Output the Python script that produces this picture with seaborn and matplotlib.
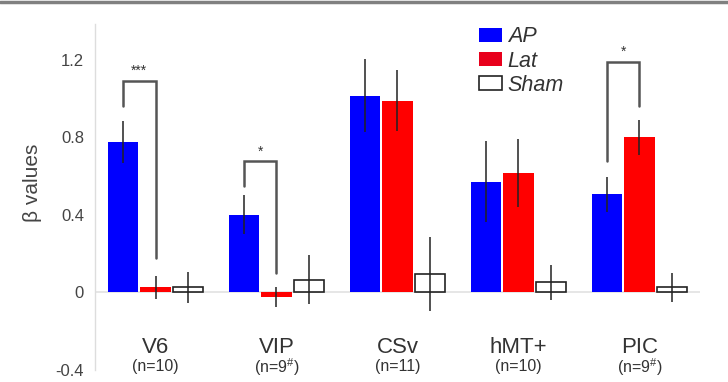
import numpy as np
import pandas as pd
import seaborn as sns
import matplotlib.pyplot as plt
from matplotlib.patches import Patch
from matplotlib.lines import Line2D

# data
regions = ['V6', 'VIP', 'CSv', 'hMT+', 'PIC']
n_labels = ['(n=10)', '(n=9$^{\\#}$)', '(n=11)', '(n=10)', '(n=9$^{\\#}$)']
conds = ['AP', 'Lat', 'Sham']
ap = [0.775, 0.40, 1.015, 0.57, 0.505]
lat = [0.025, -0.025, 0.99, 0.615, 0.80]
sham = [0.025, 0.065, 0.095, 0.05, 0.025]
# error bar half widths
ap_err = [0.11, 0.10, 0.19, 0.21, 0.09]
lat_err = [0.06, 0.05, 0.16, 0.175, 0.09]
sham_err = [0.08, 0.125, 0.19, 0.09, 0.075]
# significance brackets: (region, left leg bottom, bracket top, right leg bottom, label)
sig = [('V6', 0.96, 1.09, 0.175, '***'),
       ('VIP', 0.55, 0.675, 0.10, '*'),
       ('PIC', 0.68, 1.19, 0.96, '*')]

df = pd.DataFrame({
    'region': regions * 3,
    'cond': np.repeat(conds, len(regions)),
    'beta': ap + lat + sham,
    'err': ap_err + lat_err + sham_err,
})

sns.set_style('white')
plt.rcParams['font.family'] = ['Liberation Sans', 'DejaVu Sans']
plt.rcParams['mathtext.fontset'] = 'custom'
plt.rcParams['mathtext.rm'] = 'Liberation Sans'

fig = plt.figure(figsize=(7.28, 3.82), dpi=100)
ax = fig.add_axes([0.1305, 0.031, 0.831, 0.906])

ax = sns.barplot(data=df, x='region', y='beta', hue='cond', hue_order=conds,
                 order=regions, palette=['#0000ff', '#ff0000', 'white'],
                 saturation=1, width=0.8, gap=0.06, errorbar=None, ax=ax,
                 legend=False)

# style bars + error bars
for cond, cont in zip(conds, ax.containers):
    sub = df[df.cond == cond].set_index('region').loc[regions]
    xs = []
    for p in cont.patches:
        if cond == 'Sham':
            p.set_facecolor('white')
            p.set_edgecolor('#222222')
            p.set_linewidth(1.2)
        else:
            p.set_linewidth(0)
        xs.append(p.get_x() + p.get_width() / 2)
    ax.errorbar(xs, sub.beta.values, yerr=sub.err.values, fmt='none',
                ecolor='#222222', elinewidth=1.1, capsize=0, zorder=5)

# significance brackets
centers = {}
for cond, cont in zip(conds, ax.containers):
    for r, p in zip(regions, cont.patches):
        centers[(r, cond)] = p.get_x() + p.get_width() / 2
for r, lo_l, top, lo_r, lab in sig:
    x1, x2 = centers[(r, 'AP')], centers[(r, 'Lat')]
    ax.plot([x1, x1, x2, x2], [lo_l, top, top, lo_r], color='#555555', lw=1.8,
            solid_joinstyle='miter', zorder=6)
    ax.text((x1 + x2) / 2, top + 0.015, lab, ha='center', va='bottom',
            fontsize=10, color='#333333')

ax.axhline(0, color='#e2e2e2', lw=1.2, zorder=0)
ax.set_xlim(-0.5, 4.5)
ax.set_ylim(-0.403, 1.385)
ax.set_yticks([-0.4, 0, 0.4, 0.8, 1.2])
ax.set_yticklabels(['-0.4', '0', '0.4', '0.8', '1.2'])
ax.tick_params(axis='y', labelsize=12, labelcolor='#444444', length=0, pad=8)
ax.set_xticks([])
ax.set_xlabel('')
ax.set_ylabel('\u03b2 values', fontsize=15, color='#444444')
ax.yaxis.set_label_coords(-0.088, 0.54)
for s in ['top', 'right', 'bottom']:
    ax.spines[s].set_visible(False)
ax.spines['left'].set_color('#dddddd')
ax.spines['left'].set_linewidth(1)

for i, (r, n) in enumerate(zip(regions, n_labels)):
    ax.text(i, -0.285, r, ha='center', va='center', fontsize=16, color='#333333')
    ax.text(i, -0.385, n, ha='center', va='center', fontsize=11.5, color='#333333')

handles = [Patch(facecolor='#0000ff', edgecolor='none'),
           Patch(facecolor='#e8001c', edgecolor='none'),
           Patch(facecolor='white', edgecolor='#222222', linewidth=1.2)]
leg = ax.legend(handles, conds, loc='upper left', bbox_to_anchor=(0.634, 0.993),
                frameon=False, fontsize=15.5, handlelength=1.1, handleheight=0.6,
                handletextpad=0.25, labelspacing=0.14, borderpad=0, borderaxespad=0)
for t in leg.get_texts():
    t.set_fontstyle('italic')
    t.set_color('#333333')

fig.add_artist(Line2D([0, 1], [0.995, 0.995], color='#808080', lw=2.5,
                      transform=fig.transFigure))

fig.savefig('out.png', dpi=100)
